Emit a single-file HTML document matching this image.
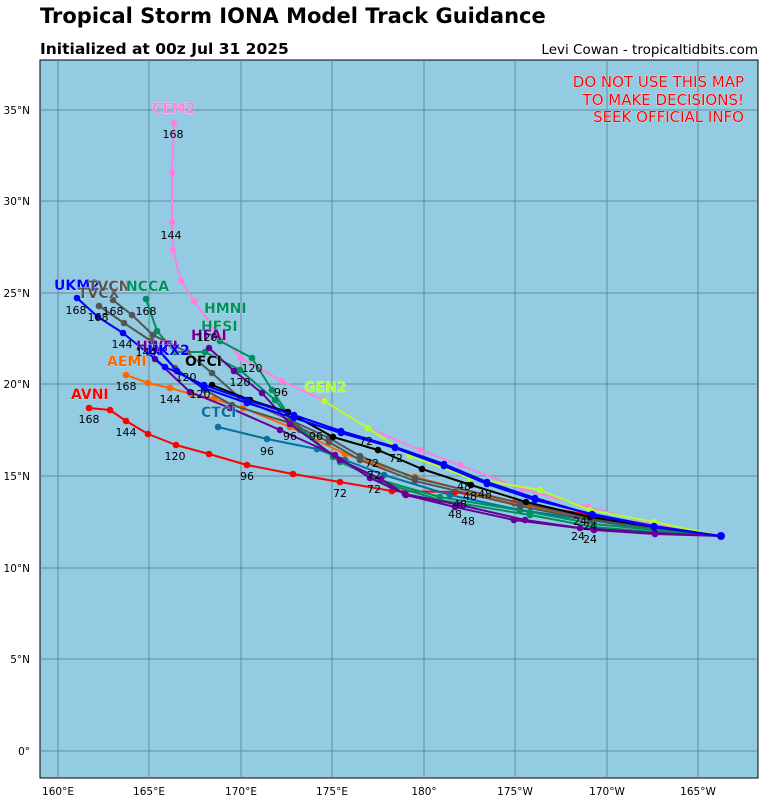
<!DOCTYPE html>
<html><head><meta charset="utf-8"><style>
body{margin:0;background:#fff;width:768px;height:801px;overflow:hidden;font-family:"DejaVu Sans","Liberation Sans",sans-serif}
</style></head><body>
<svg width="768" height="801" xmlns="http://www.w3.org/2000/svg" font-family="DejaVu Sans, Liberation Sans, sans-serif">
<defs>
<marker id="mr" markerWidth="8" markerHeight="8" refX="4" refY="4" markerUnits="userSpaceOnUse"><circle cx="4" cy="4" r="3.3" fill="#f00"/></marker>
<marker id="mp" markerWidth="8" markerHeight="8" refX="4" refY="4" markerUnits="userSpaceOnUse"><circle cx="4" cy="4" r="3.3" fill="#ff80e0"/></marker>
<marker id="ml" markerWidth="8" markerHeight="8" refX="4" refY="4" markerUnits="userSpaceOnUse"><circle cx="4" cy="4" r="3.3" fill="#adff2f"/></marker>
<marker id="mo" markerWidth="8" markerHeight="8" refX="4" refY="4" markerUnits="userSpaceOnUse"><circle cx="4" cy="4" r="3.3" fill="#ff6600"/></marker>
<marker id="mt" markerWidth="8" markerHeight="8" refX="4" refY="4" markerUnits="userSpaceOnUse"><circle cx="4" cy="4" r="3.3" fill="#0a6fa0"/></marker>
<marker id="mg" markerWidth="8" markerHeight="8" refX="4" refY="4" markerUnits="userSpaceOnUse"><circle cx="4" cy="4" r="3.3" fill="#009060"/></marker>
<marker id="my" markerWidth="8" markerHeight="8" refX="4" refY="4" markerUnits="userSpaceOnUse"><circle cx="4" cy="4" r="3.3" fill="#555"/></marker>
<marker id="mv" markerWidth="8" markerHeight="8" refX="4" refY="4" markerUnits="userSpaceOnUse"><circle cx="4" cy="4" r="3.3" fill="#660099"/></marker>
<marker id="mk" markerWidth="8" markerHeight="8" refX="4" refY="4" markerUnits="userSpaceOnUse"><circle cx="4" cy="4" r="3.3" fill="#000"/></marker>
<marker id="mb" markerWidth="8" markerHeight="8" refX="4" refY="4" markerUnits="userSpaceOnUse"><circle cx="4" cy="4" r="3.3" fill="#00f"/></marker>
</defs>
<text x="40" y="23" font-size="21" font-weight="bold">Tropical Storm IONA Model Track Guidance</text>
<text x="40" y="54" font-size="15.5" font-weight="bold">Initialized at 00z Jul 31 2025</text>
<text x="758" y="54" font-size="13.5" text-anchor="end">Levi Cowan - tropicaltidbits.com</text>
<rect x="40" y="60" width="718" height="718" fill="#92cbe2" stroke="#000" stroke-width="1"/>
<g stroke="#5a7a88" stroke-width="1" opacity="0.8">
<line x1="58" y1="60" x2="58" y2="778"/><line x1="149" y1="60" x2="149" y2="778"/><line x1="241" y1="60" x2="241" y2="778"/><line x1="332" y1="60" x2="332" y2="778"/><line x1="424" y1="60" x2="424" y2="778"/><line x1="515" y1="60" x2="515" y2="778"/><line x1="607" y1="60" x2="607" y2="778"/><line x1="698" y1="60" x2="698" y2="778"/>
<line x1="40" y1="110" x2="758" y2="110"/><line x1="40" y1="201" x2="758" y2="201"/><line x1="40" y1="293" x2="758" y2="293"/><line x1="40" y1="384" x2="758" y2="384"/><line x1="40" y1="476" x2="758" y2="476"/><line x1="40" y1="568" x2="758" y2="568"/><line x1="40" y1="659" x2="758" y2="659"/><line x1="40" y1="751" x2="758" y2="751"/>
</g>
<g font-size="10.5" text-anchor="middle">
<text x="58" y="795">160°E</text><text x="149" y="795">165°E</text><text x="241" y="795">170°E</text><text x="332" y="795">175°E</text><text x="424" y="795">180°</text><text x="515" y="795">175°W</text><text x="607" y="795">170°W</text><text x="698" y="795">165°W</text>
</g>
<g font-size="10.5" text-anchor="end">
<text x="30" y="114">35°N</text><text x="30" y="205">30°N</text><text x="30" y="297">25°N</text><text x="30" y="388">20°N</text><text x="30" y="480">15°N</text><text x="30" y="572">10°N</text><text x="30" y="663">5°N</text><text x="30" y="755">0°</text>
</g>
<g font-size="15" fill="#f00" stroke="#fff" stroke-width="0.6" text-anchor="end" paint-order="stroke">
<text x="744" y="87">DO NOT USE THIS MAP</text><text x="744" y="105">TO MAKE DECISIONS!</text><text x="744" y="122">SEEK OFFICIAL INFO</text>
</g>
<g fill="none" stroke-width="2" stroke-linejoin="round">
<polyline stroke="#f00" marker-start="url(#mr)" marker-mid="url(#mr)" marker-end="url(#mr)" points="721,536 654,530 592,515 514,503 455,492 392,491 340,482 293,474 247,465 209,454 176,445 148,434 126,421 110,410 89,408"/>
<polyline stroke="#ff80e0" marker-mid="url(#mp)" marker-end="url(#mp)" points="721,536 654,524 588,507 522,489 460,465 420,450 368,428 323,400 282,381 241,358 215,330 194,301 181,281 173,250 172,222 172,172 174,123"/>
<polyline stroke="#adff2f" marker-mid="url(#ml)" marker-end="url(#ml)" points="721,536 654,522 590,510 540,490 470,478 410,456 368,428 324,401"/>
<polyline stroke="#ff6600" marker-mid="url(#mo)" marker-end="url(#mo)" points="721,536 654,530 594,520 520,505 415,477 345,454 290,427 243,408 214,399 191,394 170,388 148,383 126,375"/>
<polyline stroke="#0a6fa0" marker-mid="url(#mt)" marker-end="url(#mt)" points="721,536 654,530 590,520 520,510 450,495 384,475 345,460 317,449 267,439 218,427"/>
<polyline stroke="#009060" marker-mid="url(#mg)" marker-end="url(#mg)" points="721,536 654,530 594,524 530,512 440,497 380,480 333,457 292,420 272,390 252,358 220,341"/>
<polyline stroke="#009060" marker-mid="url(#mg)" marker-end="url(#mg)" points="721,536 654,532 594,527 530,515 440,500 390,485 340,462 300,430 275,400 240,370 205,352 175,352 157,331 146,299"/>
<polyline stroke="#555" marker-mid="url(#my)" marker-end="url(#my)" points="721,536 654,528 590,520 520,506 415,481 360,460 329,442 290,423 232,405 205,390 175,368 151,341 124,323 99,306"/>
<polyline stroke="#555" marker-mid="url(#my)" marker-end="url(#my)" points="721,536 654,527 590,518 520,503 415,478 360,456 329,438 290,420 240,398 212,373 187,352 153,335 132,315 113,300"/>
<polyline stroke="#660099" marker-mid="url(#mv)" marker-end="url(#mv)" points="721,536 655,534 594,530 514,520 455,507 406,495 381,479 340,460 290,424 262,393 234,371 209,348"/>
<polyline stroke="#660099" marker-mid="url(#mv)" marker-end="url(#mv)" points="721,536 655,533 580,528 525,520 460,505 405,494 370,478 335,455 280,430 230,408 190,392 155,359"/>
<polyline stroke="#000" marker-mid="url(#mk)" marker-end="url(#mk)" points="721,536 654,527 590,517 526,502 471,485 422,469 378,450 333,437 288,412 250,400 212,385"/>
<polyline stroke="#00f" marker-mid="url(#mb)" marker-end="url(#mb)" points="721,536 654,527 593,515 535,498 487,482 444,464 395,447 341,431 294,415 247,400 204,385 165,367 123,333 98,317 77,298"/>
<polyline stroke="#00f" marker-mid="url(#mb)" marker-end="url(#mb)" points="721,536 654,526 592,514 535,500 487,484 444,466 395,448 341,433 294,418 247,403 204,388 177,371 160,352"/>
</g>
<g font-size="14" font-weight="bold" stroke="#fff" stroke-width="0.4" paint-order="stroke">
<text x="152" y="113" fill="#ff80e0">CEM2</text>
<text x="54" y="290" fill="#00f">UKM2</text>
<text x="78" y="298" fill="#555">TVCX</text>
<text x="88" y="291" fill="#555">TVCN</text>
<text x="126" y="291" fill="#009060">NCCA</text>
<text x="204" y="313" fill="#009060">HMNI</text>
<text x="201" y="331" fill="#009060">HFSI</text>
<text x="191" y="340" fill="#660099">HFAI</text>
<text x="136" y="351" fill="#660099">HWFI</text>
<text x="147" y="355" fill="#00f">UKX2</text>
<text x="107" y="366" fill="#ff6600">AEMI</text>
<text x="185" y="366" fill="#000">OFCI</text>
<text x="71" y="399" fill="#f00">AVNI</text>
<text x="201" y="417" fill="#0a6fa0">CTCI</text>
<text x="304" y="392" fill="#adff2f">GEN2</text>
</g>
<g font-size="11" text-anchor="middle">
<text x="173" y="138">168</text><text x="171" y="239">144</text><text x="76" y="314">168</text><text x="98" y="321">168</text><text x="113" y="315">168</text><text x="146" y="315">168</text>
<text x="122" y="348">144</text><text x="146" y="356">144</text><text x="207" y="341">120</text><text x="252" y="372">120</text><text x="126" y="390">168</text><text x="170" y="403">144</text><text x="200" y="398">120</text>
<text x="89" y="423">168</text><text x="126" y="436">144</text><text x="175" y="460">120</text><text x="247" y="480">96</text><text x="267" y="455">96</text><text x="281" y="396">96</text><text x="186" y="381">120</text><text x="240" y="386">120</text>
<text x="290" y="440">96</text><text x="316" y="440">96</text><text x="366" y="445">72</text><text x="396" y="462">72</text><text x="372" y="467">72</text><text x="374" y="479">72</text><text x="374" y="493">72</text><text x="340" y="497">72</text>
<text x="464" y="490">48</text><text x="470" y="500">48</text><text x="485" y="498">48</text><text x="460" y="508">48</text><text x="455" y="518">48</text><text x="468" y="525">48</text>
<text x="580" y="525">24</text><text x="590" y="530">24</text><text x="578" y="540">24</text><text x="590" y="543">24</text>
</g>
<circle cx="721" cy="536" r="4" fill="#00f"/>
</svg>
</body></html>
